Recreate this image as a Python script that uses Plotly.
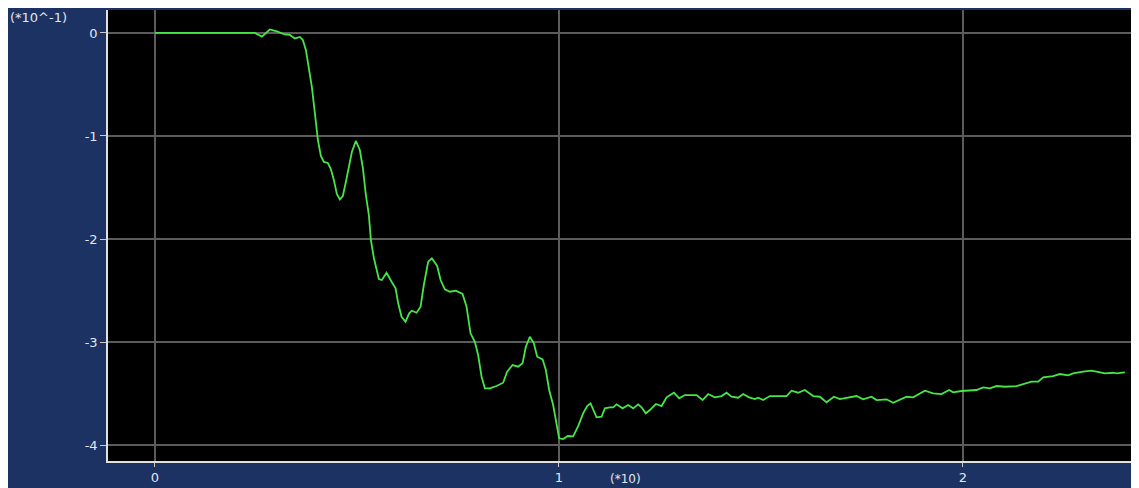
import plotly.graph_objects as go

x_vals = [0, 0.2351, 0.2475, 0.2649, 0.2847, 0.3020, 0.3218, 0.3342, 0.3465, 0.3589, 0.3663, 0.3738,
          0.3787, 0.3837, 0.3886, 0.3960, 0.4035, 0.4109, 0.4183, 0.4282, 0.4356, 0.4431, 0.4505, 0.4579,
          0.4653, 0.4728, 0.4802, 0.4876, 0.4975, 0.5074, 0.5149, 0.5223, 0.5297, 0.5347, 0.5421, 0.5495,
          0.5545, 0.5619, 0.5735, 0.5859, 0.5958, 0.6022, 0.6106, 0.6205, 0.6295, 0.6361, 0.6478, 0.6577,
          0.6658, 0.6765, 0.6856, 0.6988, 0.7072, 0.7178, 0.7302, 0.7450, 0.7616, 0.7715, 0.7814, 0.7921,
          0.8002, 0.8087, 0.8168, 0.8292, 0.8458, 0.8621, 0.8720, 0.8854, 0.8993, 0.9101, 0.9183, 0.9282,
          0.9381, 0.9463, 0.9597, 0.9678, 0.9760, 0.9859, 0.9943, 1.0007, 1.0106, 1.0223, 1.0354, 1.0478,
          1.0601, 1.0700, 1.0785, 1.0849, 1.0933, 1.1057, 1.1139, 1.1262, 1.1344, 1.1428, 1.1577, 1.1715,
          1.1839, 1.1963, 1.2047, 1.2153, 1.2252, 1.2401, 1.2542, 1.2666, 1.2847, 1.2978, 1.3119, 1.3408,
          1.3557, 1.3696, 1.3861, 1.4027, 1.4151, 1.4275, 1.4438, 1.4562, 1.4710, 1.4851, 1.4933, 1.5057,
          1.5223, 1.5636, 1.5760, 1.5923, 1.6089, 1.6295, 1.6460, 1.6626, 1.6807, 1.6955, 1.7203, 1.7369,
          1.7532, 1.7740, 1.7864, 1.8111, 1.8275, 1.8441, 1.8606, 1.8770, 1.9059, 1.9265, 1.9472, 1.9661,
          1.9760, 1.9968, 2.0339, 2.0502, 2.0668, 2.0834, 2.1040, 2.1329, 2.1493, 2.1700, 2.1864, 2.1988,
          2.2235, 2.2401, 2.2606, 2.2730, 2.2978, 2.3186, 2.3309, 2.3515, 2.3720, 2.3804, 2.4010]

y_vals = [0, 0, 0, -0.0359, 0.0340, 0.0146, -0.0146, -0.0194, -0.0534, -0.0388, -0.0680, -0.1650,
          -0.2913, -0.3883, -0.5243, -0.7767, -1.0388, -1.1942, -1.2524, -1.2621, -1.3204, -1.4272, -1.5631, -1.6165,
          -1.5825, -1.4466, -1.2816, -1.1553, -1.0485, -1.1359, -1.3107, -1.5728, -1.7670, -2.0097, -2.1845, -2.3204,
          -2.3883, -2.3981, -2.3272, -2.4146, -2.4786, -2.6214, -2.7544, -2.8029, -2.7214, -2.6961, -2.7155, -2.6573,
          -2.4466, -2.2204, -2.1874, -2.2621, -2.3981, -2.4883, -2.5117, -2.5019, -2.5340, -2.6573, -2.9155, -2.9971,
          -3.1262, -3.3369, -3.4495, -3.4495, -3.4272, -3.3951, -3.2883, -3.2233, -3.2398, -3.2068, -3.0456, -2.9485,
          -3.0126, -3.1427, -3.1680, -3.2718, -3.4660, -3.6117, -3.7864, -3.9350, -3.9417, -3.9126, -3.9155, -3.8155,
          -3.6922, -3.6214, -3.5951, -3.6602, -3.7311, -3.7252, -3.6437, -3.6340, -3.6340, -3.6049, -3.6437, -3.6117,
          -3.6437, -3.6049, -3.6340, -3.6922, -3.6602, -3.6019, -3.6214, -3.5369, -3.4922, -3.5466, -3.5146, -3.5146,
          -3.5631, -3.5049, -3.5369, -3.5243, -3.4922, -3.5311, -3.5408, -3.5049, -3.5369, -3.5534, -3.5408, -3.5631,
          -3.5243, -3.5243, -3.4728, -3.4922, -3.4660, -3.5243, -3.5311, -3.5854, -3.5311, -3.5534, -3.5388, -3.5243,
          -3.5563, -3.5311, -3.5631, -3.5563, -3.5893, -3.5563, -3.5311, -3.5369, -3.4728, -3.4981, -3.5049, -3.4660,
          -3.4883, -3.4757, -3.4660, -3.4398, -3.4495, -3.4272, -3.4340, -3.4272, -3.4078, -3.3854, -3.3854, -3.3427,
          -3.3301, -3.3107, -3.3233, -3.3039, -3.2883, -3.2786, -3.2883, -3.3039, -3.2981, -3.3039, -3.2942]

x_ticks = [0, 1, 2]
x_tick_labels = ["0", "1", "2"]
y_ticks = [0, -1, -2, -3, -4]
y_tick_labels = ["0", "-1", "-2", "-3", "-4"]

BLUE = "#1b3262"
TXT = "#e2e6ee"

fig = go.Figure()
fig.add_trace(go.Scatter(x=x_vals, y=y_vals, mode="lines",
                         line=dict(color="#45e645", width=1.8), showlegend=False,
                         hoverinfo="skip"))

fig.update_layout(
    width=1131, height=480,
    margin=dict(l=100, r=0, t=2, b=27),
    paper_bgcolor=BLUE,
    plot_bgcolor="#000000",
    font=dict(family="DejaVu Sans", size=13, color=TXT),
    xaxis=dict(range=[-0.116, 2.436], tickvals=x_ticks, ticktext=x_tick_labels,
               showgrid=True, gridcolor="#5c5c5c", gridwidth=1.5, zeroline=False,
               showline=True, linecolor="#e0e0e0", linewidth=1.5,
               ticks="outside", ticklen=4, tickcolor="#cccccc",
               tickfont=dict(color=TXT, size=13)),
    yaxis=dict(range=[-4.155, 0.223], tickvals=y_ticks, ticktext=y_tick_labels,
               showgrid=True, gridcolor="#5c5c5c", gridwidth=1.5, zeroline=False,
               showline=True, linecolor="#e0e0e0", linewidth=1.5,
               ticks="outside", ticklen=6, tickcolor="#cccccc",
               tickfont=dict(color=TXT, size=13)),
    annotations=[
        dict(text="(*10^-1)", xref="paper", yref="paper", x=-0.097, y=1.0044,
             xanchor="left", yanchor="top", showarrow=False,
             font=dict(family="DejaVu Sans", size=13, color=TXT)),
        dict(text="(*10)", xref="paper", yref="paper", x=0.5015, y=-0.059,
             xanchor="center", yanchor="bottom", showarrow=False,
             font=dict(family="DejaVu Sans", size=12, color=TXT)),
    ],
)

fig.write_html("out.html")
